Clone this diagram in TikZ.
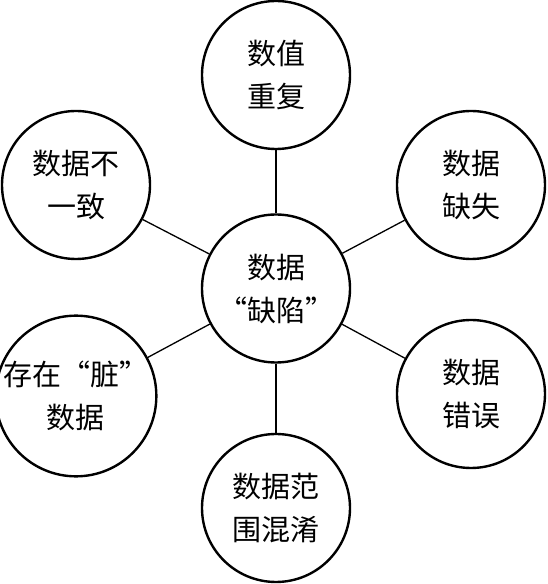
\documentclass[tikz,border=0pt]{standalone}
\usepackage{fontspec}
\newfontfamily\cjk{Noto Sans CJK SC}
\begin{document}
\begin{tikzpicture}[x=1pt,y=1pt,
  bubble/.style={circle,draw,line width=2.4pt,minimum size=148pt,inner sep=0pt,align=center,
    font=\cjk\fontsize{29}{43}\selectfont},
  link/.style={line width=1.3pt}]
\useasboundingbox (0,0) rectangle (547,584);
\node[bubble] (c)  at (276,295.5) {数据\\“缺陷”};
\node[bubble] (t)  at (276,509) {数值\\重复};
\node[bubble] (tl) at (76,399) {数据不\\一致};
\node[bubble] (tr) at (471,399) {数据\\缺失};
\node[bubble] (bl) at (76,188) {存在“脏”\\数据};
\node[bubble] (br) at (471,190) {数据\\错误};
\node[bubble] (b)  at (276,76) {数据范\\围混淆};
\foreach \n in {t,tl,tr,bl,br,b} \draw[link] (c) -- (\n);
\end{tikzpicture}
\end{document}
